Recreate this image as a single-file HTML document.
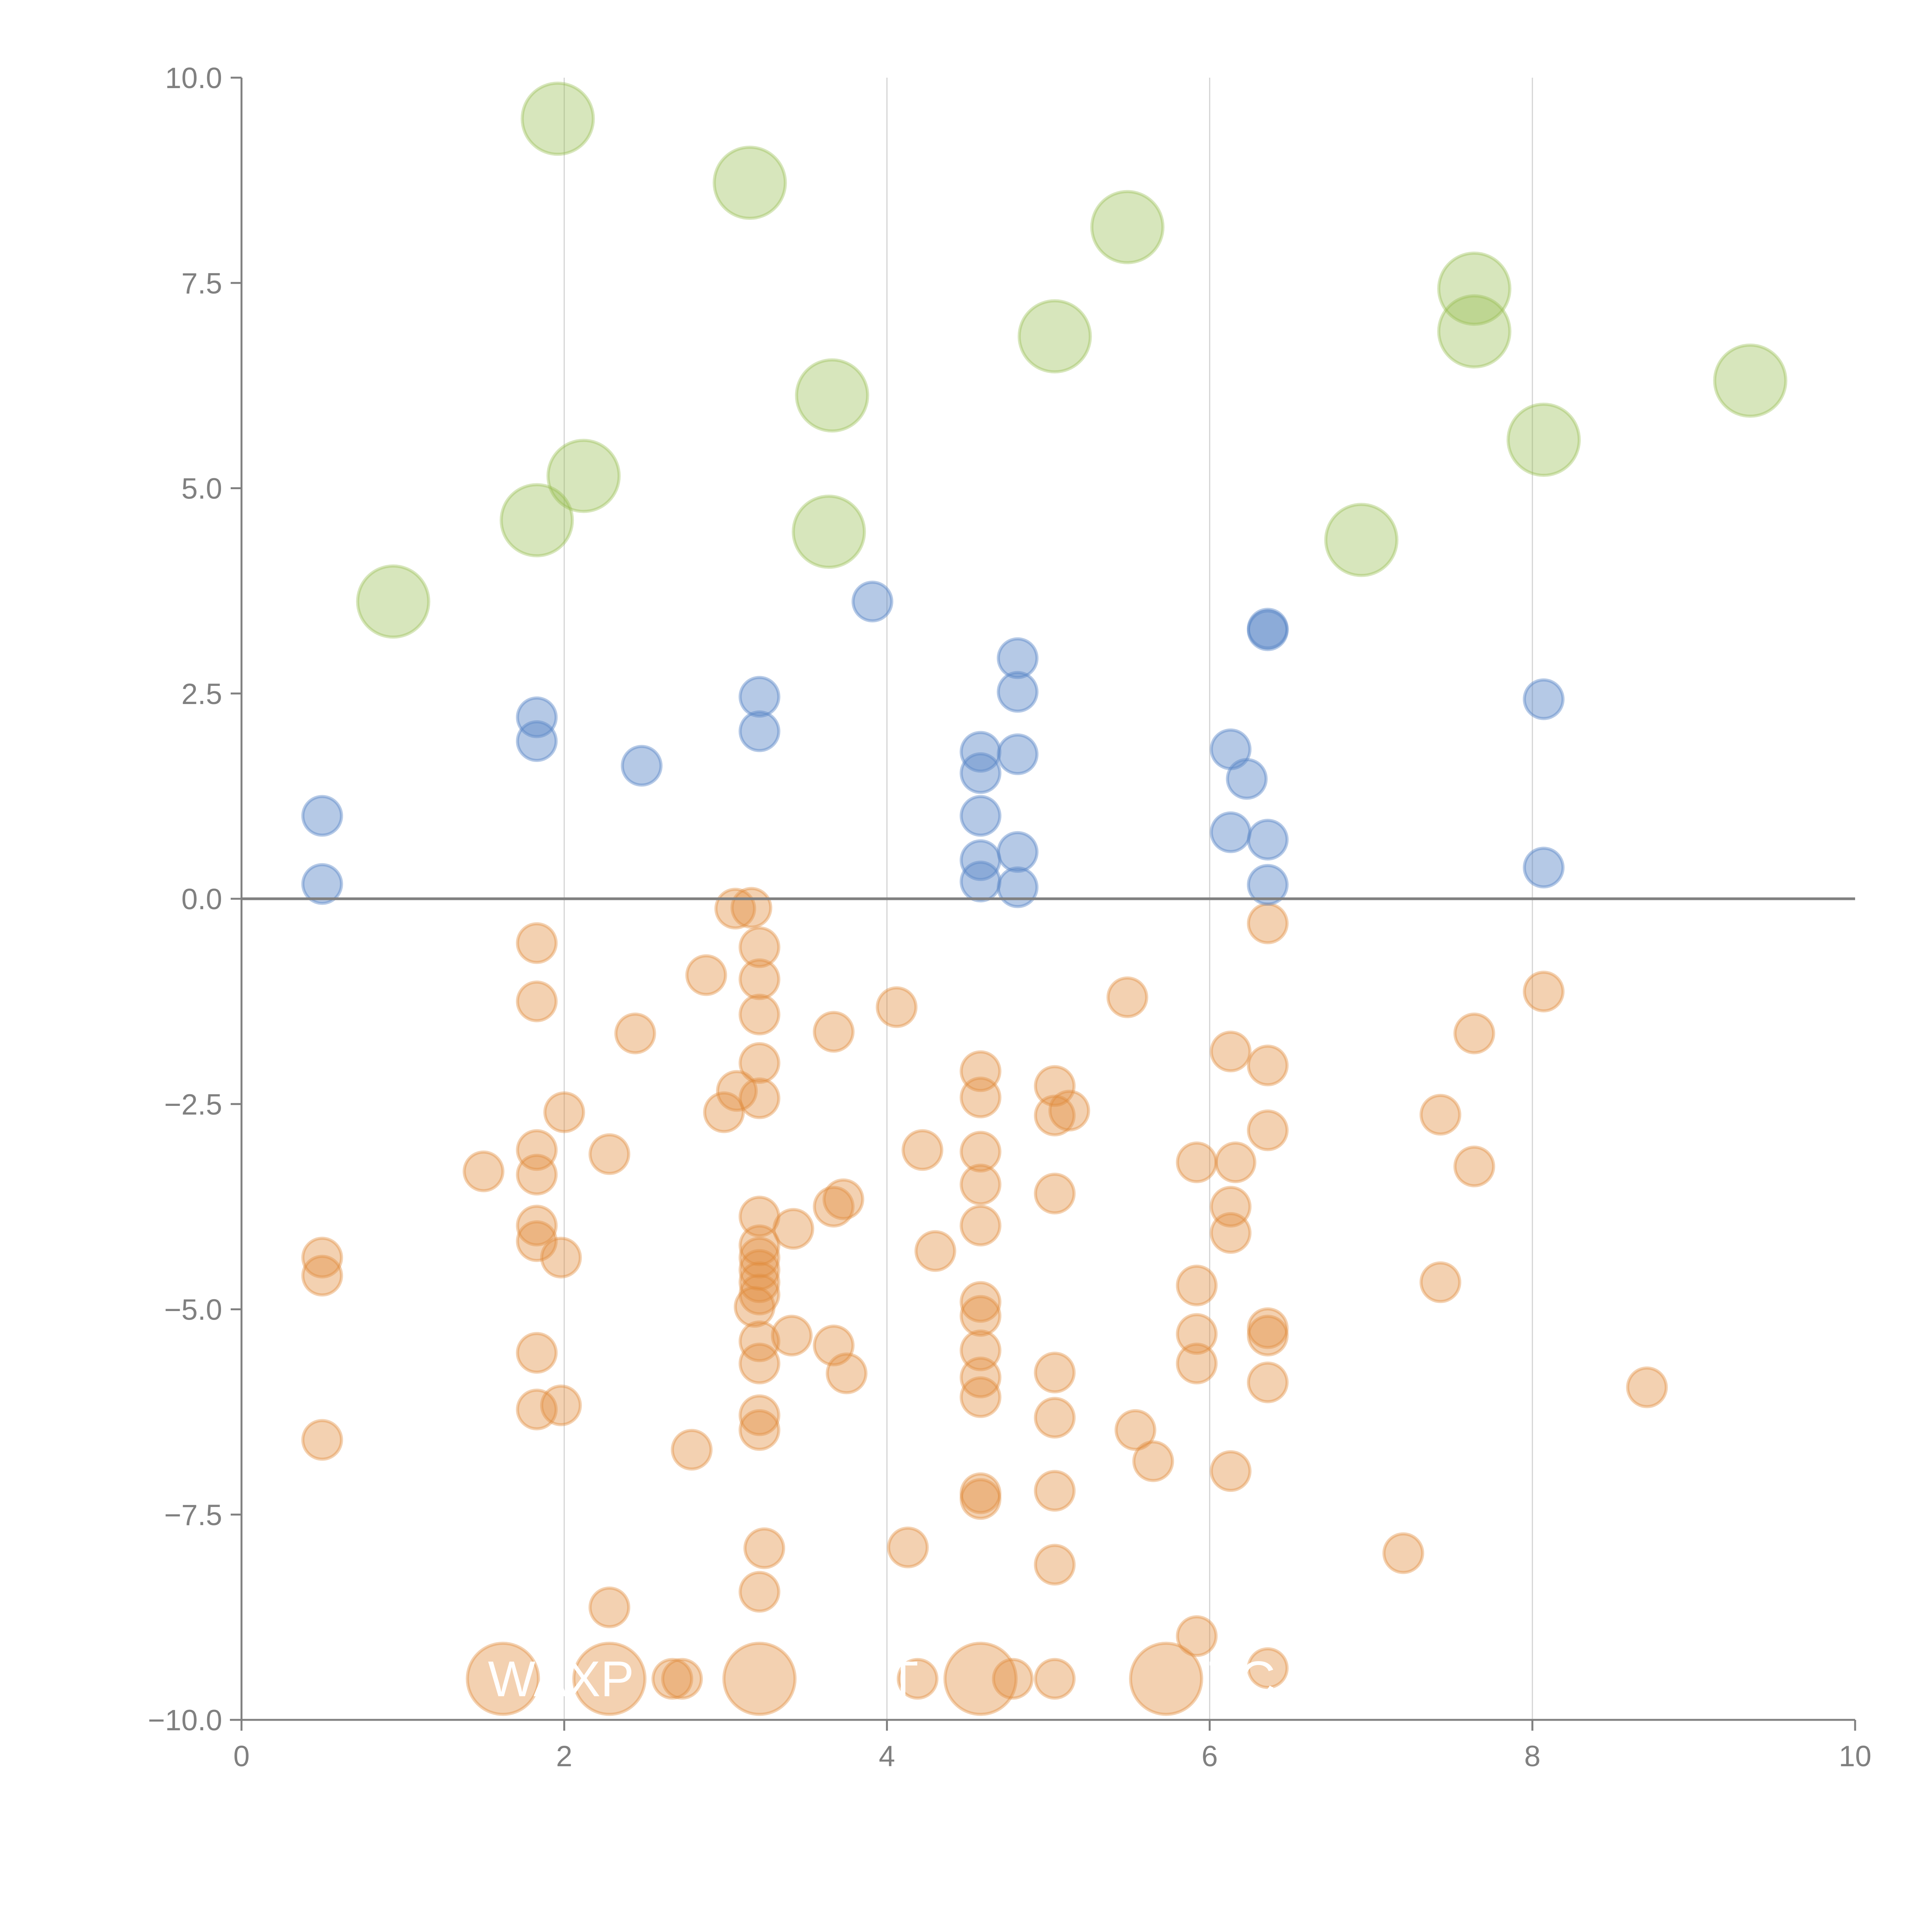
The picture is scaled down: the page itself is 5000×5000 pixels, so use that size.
<!DOCTYPE html>
<html><head><meta charset="utf-8"><title>Bubble scatter chart</title>
<style>html,body{margin:0;padding:0;background:#fff}svg{display:block}</style></head>
<body>
<svg id="chart" xmlns="http://www.w3.org/2000/svg" width="5000" height="5000" viewBox="0 0 5000 5000" font-family="'Liberation Sans', sans-serif">
<rect width="5000" height="5000" fill="#fff"/>
<g id="grid"></g>
<g id="marks"></g>
<g id="axes"></g>
</svg>
<script>
const xTicks = [0, 2, 4, 6, 8, 10];
const xTickLabels = ["0", "2", "4", "6", "8", "10"];
const yTicks = [-10, -7.5, -5, -2.5, 0, 2.5, 5, 7.5, 10];
const yTickLabels = ["\u221210.0", "\u22127.5", "\u22125.0", "\u22122.5", "0.0", "2.5", "5.0", "7.5", "10.0"];

const greenX = [1.96,3.15,5.49,7.64,7.64,5.04,3.66,9.35,8.07,2.12,1.83,3.64,6.94,0.94];
const greenY = [9.50,8.72,8.18,7.43,6.91,6.85,6.13,6.31,5.59,5.15,4.61,4.47,4.37,3.62];

const blueX = [3.91,4.81,4.81,6.36,6.36,3.21,3.21,1.83,1.83,2.48,8.07,4.58,4.58,4.81,6.13,6.23,0.50,4.58,6.13,6.36,4.81,4.58,0.50,4.58,4.81,6.36,8.07];
const blueY = [3.62,2.93,2.52,3.29,3.27,2.46,2.04,2.21,1.92,1.62,2.43,1.79,1.53,1.76,1.82,1.46,1.01,1.01,0.81,0.72,0.57,0.47,0.18,0.21,0.14,0.17,0.38];

const orangeX = [3.06,3.16,3.21,3.21,3.21,3.21,3.21,3.07,2.99,2.88,1.83,1.83,2.44,2.00,1.83,1.83,2.28,1.50,1.83,1.83,1.98,0.50,0.50,1.83,1.83,1.98,0.50,2.28,2.79,
 3.21,3.21,3.21,3.21,3.21,3.21,3.18,3.21,3.21,3.21,3.21,3.24,3.21,3.42,3.41,3.67,3.67,3.73,3.67,3.75,4.06,4.22,4.30,4.13,4.19,
 4.58,4.58,4.58,4.58,4.58,4.58,4.58,4.58,4.58,4.58,4.58,4.58,4.78,5.04,5.04,5.13,5.04,5.04,5.04,5.04,5.04,5.04,
 5.49,5.54,5.65,5.92,5.92,5.92,5.92,5.92,6.13,6.16,6.13,6.13,6.13,6.36,6.36,6.36,6.36,6.36,6.36,6.36,7.43,7.43,7.64,7.64,8.07,7.20,8.71,2.67,2.73];
const orangeY = [-0.12,-0.11,-0.59,-0.98,-1.41,-2.00,-2.43,-2.34,-2.60,-0.93,-0.54,-1.25,-1.64,-2.60,-3.06,-3.36,-3.11,-3.32,-3.98,-4.17,-4.37,-4.37,-4.59,-5.53,-6.22,-6.17,-6.59,-8.63,-6.71,
 -3.87,-4.22,-4.37,-4.52,-4.67,-4.82,-4.97,-5.39,-5.66,-6.29,-6.47,-7.91,-8.44,-4.02,-5.32,-1.62,-3.75,-3.66,-5.44,-5.78,-1.32,-3.06,-4.29,-7.90,-9.50,
 -2.10,-2.42,-3.08,-3.48,-3.98,-4.91,-5.08,-5.50,-5.83,-6.07,-7.24,-7.31,-9.50,-2.28,-2.64,-2.58,-3.59,-5.77,-6.32,-7.21,-8.11,-9.50,
 -1.20,-6.47,-6.85,-3.21,-4.71,-5.30,-5.66,-8.98,-1.86,-3.21,-3.75,-4.07,-6.97,-0.30,-2.03,-2.82,-5.23,-5.32,-5.89,-9.37,-2.63,-4.67,-1.64,-3.26,-1.13,-7.97,-5.95,-9.50,-9.50];

const bigOrangeX = [1.62,2.28,3.21,4.58,5.73];
const bigOrangeY = [-9.50,-9.50,-9.50,-9.50,-9.50];

const bottomLabels = ["WAXP", "I", "T", "TC"];
const bottomLabelX = [1.98, 3.6, 4.1, 6.2];

const NS = "http://www.w3.org/2000/svg";
const X0 = 625, XU = 417.6, Y10 = 201, YU = 212.5;
function sx(v){ return X0 + v * XU; }
function sy(v){ return Y10 + (10 - v) * YU; }
function mk(tag, attrs, parent){
  const e = document.createElementNS(NS, tag);
  for (const k in attrs) e.setAttribute(k, attrs[k]);
  parent.appendChild(e);
  return e;
}
const grid = document.getElementById('grid');
const marks = document.getElementById('marks');
const axes = document.getElementById('axes');

[2,4,6,8].forEach(function(t){
  const l = mk('line', {x1: sx(t), x2: sx(t), y1: sy(10), y2: sy(-10), stroke: '#d4d4d4', 'stroke-width': 3}, grid);
  
  
});

function drawSeries(xs, ys, r, fill, name){
  for (let i = 0; i < xs.length; i++){
    const c = mk('circle', {cx: sx(xs[i]), cy: sy(ys[i]), r: r, fill: fill, stroke: fill, 'stroke-width': 8}, marks);
    
    
  }
}
drawSeries(orangeX, orangeY, 50, 'rgba(226,140,60,0.4)', 'orange-bubble');
drawSeries(bigOrangeX, bigOrangeY, 92, 'rgba(226,140,60,0.4)', 'orange-large-bubble');
drawSeries(blueX, blueY, 50, 'rgba(90,135,200,0.45)', 'blue-bubble');
drawSeries(greenX, greenY, 92, 'rgba(150,190,80,0.38)', 'green-bubble');

for (let i = 0; i < bottomLabels.length; i++){
  const t = mk('text', {x: sx(bottomLabelX[i]), y: sy(-9.5) + 45, 'font-size': 130, fill: '#fff', 'text-anchor': 'middle'}, marks);
  t.textContent = bottomLabels[i];
  
  
}

const z = mk('line', {x1: sx(0), x2: sx(10), y1: sy(0), y2: sy(0), stroke: '#808080', 'stroke-width': 7}, axes);



const ya = mk('line', {x1: sx(0), x2: sx(0), y1: sy(10), y2: sy(-10), stroke: '#808080', 'stroke-width': 5}, axes);


for (let i = 0; i < yTicks.length; i++){
  const y = sy(yTicks[i]);
  const tk = mk('line', {x1: sx(0) - 28, x2: sx(0), y1: y, y2: y, stroke: '#808080', 'stroke-width': 5}, axes);
  
  
  const tx = mk('text', {x: sx(0) - 50, y: y + 27, 'font-size': 76, fill: '#808080', 'text-anchor': 'end'}, axes);
  tx.textContent = yTickLabels[i];
  
  
}
const xa = mk('line', {x1: sx(0) - 30, x2: sx(10), y1: sy(-10), y2: sy(-10), stroke: '#808080', 'stroke-width': 5}, axes);


for (let i = 0; i < xTicks.length; i++){
  const x = sx(xTicks[i]);
  const tk = mk('line', {x1: x, x2: x, y1: sy(-10), y2: sy(-10) + 28, stroke: '#808080', 'stroke-width': 5}, axes);
  
  
  const tx = mk('text', {x: x, y: sy(-10) + 120, 'font-size': 76, fill: '#808080', 'text-anchor': 'middle'}, axes);
  tx.textContent = xTickLabels[i];
  
  
}
</script>
</body></html>
